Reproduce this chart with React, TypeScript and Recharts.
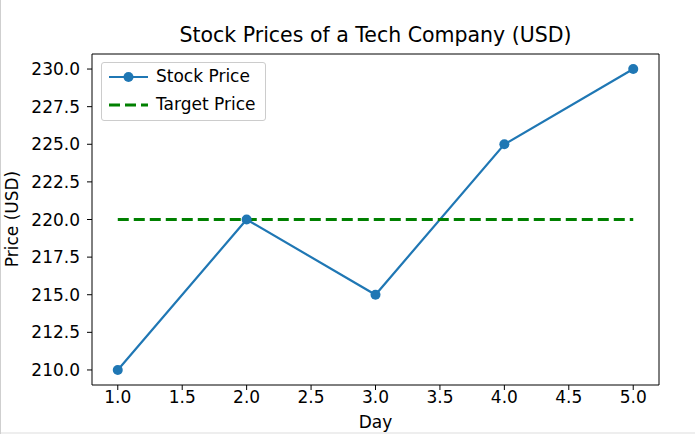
import React from 'react'
import { LineChart, Line, XAxis, YAxis, ReferenceArea } from 'recharts'

const days = [1, 2, 3, 4, 5]
const stockPrices = [210, 220, 215, 225, 230]
const targetPrices = [220, 220, 220, 220, 220]
const xTicks = [1, 1.5, 2, 2.5, 3, 3.5, 4, 4.5, 5]
const yTicks = [210, 212.5, 215, 217.5, 220, 222.5, 225, 227.5, 230]

const FONT = '"DejaVu Sans", sans-serif'
const BLUE = '#1f77b4'
const GREEN = '#008000'

const data = days.map((d, i) => ({ day: d, stock: stockPrices[i], target: targetPrices[i] }))

function LegendBox() {
  return (
    <div
      style={{
        position: 'absolute',
        left: 101,
        top: 62,
        width: 163,
        height: 57,
        border: '1px solid #cccccc',
        borderRadius: 3,
        background: 'rgba(255,255,255,0.8)',
        fontFamily: FONT,
        fontSize: 17,
        color: '#000',
      }}
    >
      <svg width={50} height={57} style={{ position: 'absolute', left: 0, top: 0 }}>
        <line x1={7} x2={46} y1={14} y2={14} stroke={BLUE} strokeWidth={2.2} />
        <circle cx={26.5} cy={14} r={5} fill={BLUE} />
        <line x1={7} x2={46} y1={42} y2={42} stroke={GREEN} strokeWidth={3} strokeDasharray="11 5" />
      </svg>
      <div style={{ position: 'absolute', left: 54, top: 3, whiteSpace: 'nowrap' }}>Stock Price</div>
      <div style={{ position: 'absolute', left: 54, top: 31, whiteSpace: 'nowrap' }}>Target Price</div>
    </div>
  )
}

export default function App() {
  return (
    <div
      style={{
        position: 'absolute',
        left: 0,
        top: 0,
        width: 695,
        height: 434,
        overflow: 'hidden',
        background: '#fff',
      }}
    >
      <LineChart width={695} height={434} data={data} margin={{ top: 54, right: 36, bottom: 9, left: 0 }}>
        <XAxis
          dataKey="day"
          type="number"
          domain={[0.8, 5.2]}
          ticks={xTicks}
          tickFormatter={(v) => v.toFixed(1)}
          height={40}
          axisLine={false}
          tickSize={5}
          tickMargin={1}
          tickLine={{ stroke: '#000' }}
          tick={{ fill: '#000', fontSize: 17, fontFamily: FONT }}
        />
        <YAxis
          type="number"
          domain={[209, 231]}
          ticks={yTicks}
          tickFormatter={(v) => v.toFixed(1)}
          width={92}
          axisLine={false}
          tickSize={5}
          tickMargin={7}
          tickLine={{ stroke: '#000' }}
          tick={{ fill: '#000', fontSize: 17, fontFamily: FONT }}
        />
        <ReferenceArea x1={0.8} x2={5.2} y1={209} y2={231} fill="none" stroke="#000" strokeWidth={1} />
        <Line
          dataKey="stock"
          name="Stock Price"
          stroke={BLUE}
          strokeWidth={2.2}
          dot={{ r: 5, fill: BLUE, stroke: 'none' }}
          isAnimationActive={false}
        />
        <Line
          dataKey="target"
          name="Target Price"
          stroke={GREEN}
          strokeWidth={3}
          strokeDasharray="11 5"
          dot={false}
          isAnimationActive={false}
        />
      </LineChart>
      <LegendBox />
      <div
        style={{
          position: 'absolute',
          left: 92,
          width: 567,
          top: 23,
          textAlign: 'center',
          fontFamily: FONT,
          fontSize: 20.5,
          color: '#000',
          whiteSpace: 'nowrap',
        }}
      >
        Stock Prices of a Tech Company (USD)
      </div>
      <div
        style={{
          position: 'absolute',
          left: 12,
          top: 219,
          transform: 'translate(-50%, -50%) rotate(-90deg)',
          fontFamily: FONT,
          fontSize: 17,
          color: '#000',
          whiteSpace: 'nowrap',
        }}
      >
        Price (USD)
      </div>
      <div
        style={{
          position: 'absolute',
          left: 92,
          width: 567,
          top: 412,
          textAlign: 'center',
          fontFamily: FONT,
          fontSize: 17,
          color: '#000',
        }}
      >
        Day
      </div>
      <div style={{ position: 'absolute', left: 0, top: 432, width: 695, height: 2, background: '#eeeeee' }} />
      <div style={{ position: 'absolute', left: 0, top: 0, width: 1, height: 434, background: '#cfcfcf' }} />
    </div>
  )
}
